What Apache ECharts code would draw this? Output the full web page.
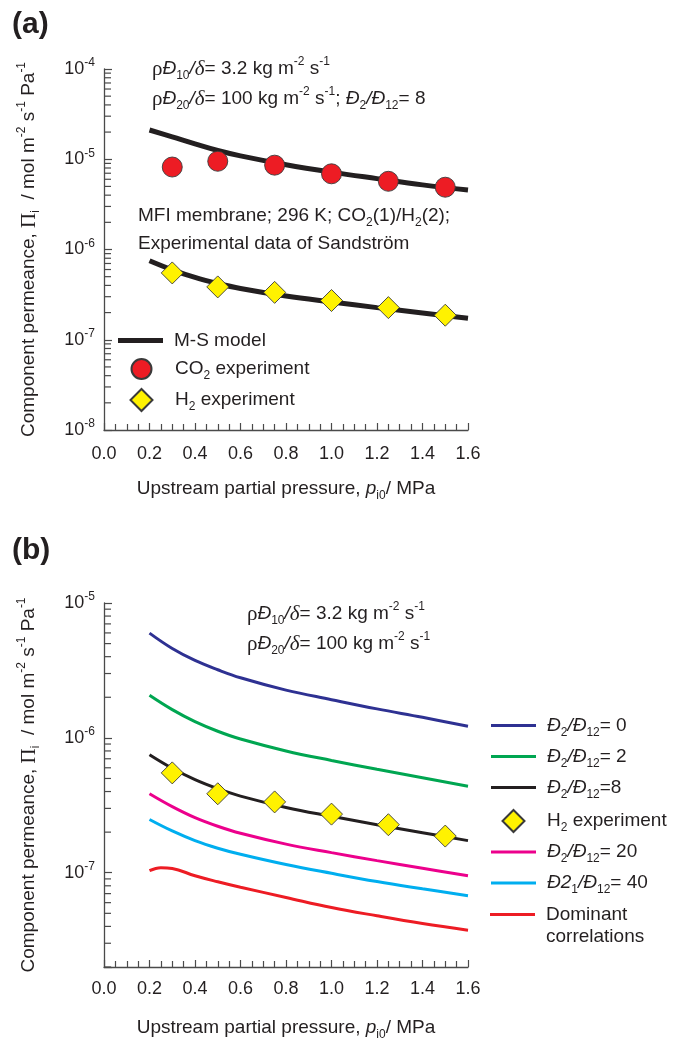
<!DOCTYPE html>
<html>
<head>
<meta charset="utf-8">
<title>Component permeance</title>
<script src="https://cdn.jsdelivr.net/npm/echarts@6.0.0/dist/echarts.min.js"></script>
<style>
html, body { margin: 0; padding: 0; background: #fff; }
#main { width: 683px; height: 1039px; }
</style>
</head>
<body>
<div id="main"></div>
<script>
var FONT = '"Liberation Sans", Arial, sans-serif';
var SERIF = '"Liberation Serif", "Times New Roman", serif';
var INK = '#231f20';

// upstream partial pressure, MPa
var modelP = [0.2, 0.3, 0.4, 0.5, 0.6, 0.8, 1.0, 1.2, 1.4, 1.6];
var exptP = [0.3, 0.5, 0.75, 1.0, 1.25, 1.5];
var domP = [0.2, 0.25, 0.3, 0.4, 0.5, 0.6, 0.8, 1.0, 1.2, 1.4, 1.6];

// panel (a), permeance mol m-2 s-1 Pa-1
var co2Model = [2.11e-5, 1.77e-5, 1.48e-5, 1.25e-5, 1.09e-5, 8.7e-6, 7.2e-6, 6.1e-6, 5.2e-6, 4.56e-6];
var h2Model = [7.5e-7, 5.95e-7, 4.9e-7, 4.2e-7, 3.7e-7, 3.05e-7, 2.62e-7, 2.27e-7, 1.98e-7, 1.73e-7];
var co2Expt = [8.2e-6, 9.5e-6, 8.6e-6, 6.9e-6, 5.7e-6, 4.9e-6];
var h2Expt = [5.5e-7, 3.85e-7, 3.35e-7, 2.72e-7, 2.27e-7, 1.87e-7];

// panel (b), H2 permeance for different Đ2/Đ12
var ratio0 = [5.98e-6, 4.6e-6, 3.75e-6, 3.2e-6, 2.79e-6, 2.26e-6, 1.92e-6, 1.64e-6, 1.42e-6, 1.22e-6];
var ratio2 = [2.07e-6, 1.62e-6, 1.32e-6, 1.12e-6, 9.8e-7, 8.0e-7, 6.8e-7, 5.85e-7, 5.07e-7, 4.38e-7];
var ratio20 = [3.85e-7, 3.09e-7, 2.56e-7, 2.21e-7, 1.96e-7, 1.63e-7, 1.41e-7, 1.23e-7, 1.08e-7, 9.5e-8];
var ratio40 = [2.48e-7, 2.04e-7, 1.73e-7, 1.52e-7, 1.37e-7, 1.15e-7, 9.9e-8, 8.6e-8, 7.6e-8, 6.75e-8];
var dominant = [1.035e-7, 1.09e-7, 1.076e-7, 9.5e-8, 8.57e-8, 7.8e-8, 6.56e-8, 5.52e-8, 4.79e-8, 4.2e-8, 3.75e-8];

// log-axis minor ticks
var minorMult = [2, 3, 4, 5, 6, 7, 8, 9];
var decadesA = [-8, -7, -6, -5];
var decadesB = [-8, -7, -6];

function pairs(xs, ys) {
    return xs.map(function (x, i) { return [x, ys[i]]; });
}

function minorValues(decades) {
    var out = [];
    decades.forEach(function (d) {
        minorMult.forEach(function (k) {
            out.push(Number((k * Math.pow(10, d)).toPrecision(3)));
        });
    });
    return out;
}

var rich = {
    n: { fontFamily: FONT, fontSize: 19, lineHeight: 26, color: INK },
    i: { fontFamily: FONT, fontSize: 19, lineHeight: 26, fontStyle: 'italic', color: INK },
    g: { fontFamily: SERIF, fontSize: 21, lineHeight: 26, color: INK },
    gi: { fontFamily: SERIF, fontSize: 21, lineHeight: 26, fontStyle: 'italic', color: INK },
    sup: { fontFamily: FONT, fontSize: 12, lineHeight: 12, verticalAlign: 'top', color: INK },
    sub: { fontFamily: FONT, fontSize: 12, lineHeight: 12, verticalAlign: 'bottom', color: INK },
    m: { fontFamily: FONT, fontSize: 19, lineHeight: 22, color: INK }
};

var tickRich = {
    t: { fontFamily: FONT, fontSize: 18, lineHeight: 24, color: INK },
    ts: { fontFamily: FONT, fontSize: 12, lineHeight: 12, verticalAlign: 'top', color: INK }
};

var legendText = {
    'M-S model': '{n|M-S model}',
    'CO2 experiment': '{n|CO}{sub|2}{n| experiment}',
    'H2 experiment': '{n|H}{sub|2}{n| experiment}',
    'D2/D12= 0': '{i|Đ}{sub|2}{i|/Đ}{sub|12}{n|= 0}',
    'D2/D12= 2': '{i|Đ}{sub|2}{i|/Đ}{sub|12}{n|= 2}',
    'D2/D12=8': '{i|Đ}{sub|2}{i|/Đ}{sub|12}{n|=8}',
    'D2/D12= 20': '{i|Đ}{sub|2}{i|/Đ}{sub|12}{n|= 20}',
    'D21/D12= 40': '{i|Đ2}{sub|1}{i|/Đ}{sub|12}{n|= 40}',
    'Dominant correlations': '{m|Dominant}\n{m|correlations}'
};

// legend icons drawn in a 45 x 22 box (end points pin the box width)
var thickBar = 'path://M0,0H45V5H0Z';
var thinBar = 'path://M0,0H45V3H0Z';
var diamondIcon = 'path://M0,11L0,11M45,11L45,11M22.5,0L33.5,11L22.5,22L11.5,11Z';
var circleIcon = 'path://M0,11L0,11M45,11L45,11M12.5,11A10,10 0 1 1 32.5,11A10,10 0 1 1 12.5,11Z';

var yName = '{n|Component permeance, }{g|Π}{sub|i}{n|  / mol m}{sup|-2}{n| s}{sup|-1}{n| Pa}{sup|-1}';
var xName = '{n|Upstream partial pressure, }{i|p}{sub|i0}{n|/ MPa}';

var axisColor = '#4a4a4a';

function xAxisFor(gi, labelMargin, nameGap) {
    return {
        type: 'value', gridIndex: gi, min: 0, max: 1.6, interval: 0.2,
        name: xName, nameLocation: 'middle', nameGap: nameGap,
        nameTextStyle: { rich: rich },
        axisLine: { onZero: false, lineStyle: { color: axisColor, width: 1.3 } },
        axisTick: { inside: true, length: 7, lineStyle: { color: axisColor, width: 1.2 } },
        minorTick: { show: true, splitNumber: 4, length: 6, lineStyle: { color: axisColor, width: 1.2 } },
        axisLabel: {
            margin: labelMargin, fontSize: 18, fontFamily: FONT, color: INK,
            formatter: function (v) { return v.toFixed(1); }
        },
        splitLine: { show: false }
    };
}

function yAxisFor(gi, min, max, splitNumber) {
    return {
        type: 'log', logBase: 10, gridIndex: gi, min: min, max: max, splitNumber: splitNumber,
        name: yName, nameLocation: 'middle', nameGap: 62, nameRotate: 90,
        nameTextStyle: { rich: rich },
        axisLine: { onZero: false, lineStyle: { color: axisColor, width: 1.3 } },
        axisTick: { inside: true, length: 8, lineStyle: { color: axisColor, width: 1.2 } },
        axisLabel: {
            margin: 9,
            formatter: function (v) {
                var lg = Math.log10(v);
                var e = Math.round(lg);
                if (Math.abs(lg - e) > 1e-6) return '';
                return '{t|10}{ts|' + e + '}';
            },
            rich: tickRich
        },
        splitLine: { show: false }
    };
}

function minorTickSeries(gi, values) {
    return {
        type: 'custom', xAxisIndex: gi, yAxisIndex: gi, silent: true, clip: false, z: 1,
        data: values.map(function (v) { return [0, v]; }),
        renderItem: function (params, api) {
            var p = api.coord([0, api.value(1)]);
            return {
                type: 'line',
                shape: { x1: p[0], y1: p[1], x2: p[0] + 7, y2: p[1] },
                style: { stroke: axisColor, lineWidth: 1.2 }
            };
        }
    };
}

function curve(gi, name, xs, ys, color, width) {
    return {
        name: name, type: 'line', xAxisIndex: gi, yAxisIndex: gi,
        data: pairs(xs, ys), smooth: 0.4, symbol: 'none',
        lineStyle: { color: color, width: width }, itemStyle: { color: color }
    };
}

function points(gi, name, ys, symbol, size, fill) {
    return {
        name: name, type: 'scatter', xAxisIndex: gi, yAxisIndex: gi,
        data: pairs(exptP, ys), symbol: symbol, symbolSize: size, z: 5,
        itemStyle: { color: fill, borderColor: '#3a3a3a', borderWidth: 0.9, opacity: 1 }
    };
}

function legendFor(items, left, top, gap, textPadding) {
    return {
        data: items, orient: 'vertical', left: left, top: top, padding: 0,
        itemWidth: 45, itemHeight: 22, itemGap: gap,
        formatter: function (name) { return legendText[name] || name; },
        textStyle: { rich: rich, padding: textPadding }
    };
}

var annoA1 = '{g|ρ}{i|Đ}{sub|10}{i|/}{gi|δ}{n|= 3.2 kg m}{sup|-2}{n| s}{sup|-1}';
var annoA2 = '{g|ρ}{i|Đ}{sub|20}{i|/}{gi|δ}{n|= 100 kg m}{sup|-2}{n| s}{sup|-1}{n|; }{i|Đ}{sub|2}{i|/Đ}{sub|12}{n|= 8}';
var annoB2 = '{g|ρ}{i|Đ}{sub|20}{i|/}{gi|δ}{n|= 100 kg m}{sup|-2}{n| s}{sup|-1}';

function note(x, y, text) {
    return { type: 'text', x: x, y: y, style: { text: text, rich: rich, verticalAlign: 'middle', fill: INK } };
}

var dom = document.getElementById('main');
var myChart = echarts.init(dom);

var option = {
    animation: false,
    backgroundColor: '#fff',
    grid: [
        { left: 104, top: 69, width: 364, height: 361, outerBoundsMode: 'none' },
        { left: 104, top: 603, width: 364, height: 364, outerBoundsMode: 'none' }
    ],
    xAxis: [xAxisFor(0, 15, 46), xAxisFor(1, 13, 48)],
    yAxis: [yAxisFor(0, 1e-8, 1e-4, 4), yAxisFor(1, 2e-8, 1e-5, 3)],
    legend: [
        legendFor([{ name: 'M-S model', icon: thickBar }], 118, 331, 0, [0, 0, 0, 6]),
        legendFor([{ name: 'CO2 experiment', icon: circleIcon }], 118, 358, 0, [0, 0, 0, 6]),
        legendFor([{ name: 'H2 experiment', icon: diamondIcon }], 118, 388, 0, [0, 0, 0, 6]),
        legendFor([
            { name: 'D2/D12= 0', icon: thinBar },
            { name: 'D2/D12= 2', icon: thinBar },
            { name: 'D2/D12=8', icon: thinBar },
            { name: 'H2 experiment', icon: diamondIcon },
            { name: 'D2/D12= 20', icon: thinBar },
            { name: 'D21/D12= 40', icon: thinBar }
        ], 490, 716, 8.5, [0, 0, 0, 6]),
        legendFor([{ name: 'Dominant correlations', icon: thinBar }], 490, 905, 0, [22, 0, 0, 6])
    ],
    graphic: [
        { type: 'text', left: 12, top: 10, style: { text: '(a)', font: 'bold 30px ' + FONT, fill: INK } },
        { type: 'text', left: 12, top: 536, style: { text: '(b)', font: 'bold 30px ' + FONT, fill: INK } },
        note(152, 69, annoA1),
        note(152, 99, annoA2),
        note(138, 216, '{n|MFI membrane; 296 K; CO}{sub|2}{n|(1)/H}{sub|2}{n|(2);}'),
        note(138, 244, '{n|Experimental data of Sandström}'),
        note(247, 614, annoA1),
        note(247, 644, annoB2)
    ],
    series: [
        minorTickSeries(0, minorValues(decadesA)),
        minorTickSeries(1, minorValues(decadesB)),
        curve(0, 'M-S model', modelP, co2Model, '#231f20', 5),
        curve(0, 'M-S model', modelP, h2Model, '#231f20', 5),
        points(0, 'CO2 experiment', co2Expt, 'circle', 20, '#ed1c24'),
        points(0, 'H2 experiment', h2Expt, 'diamond', 22, '#fff200'),
        curve(1, 'D2/D12= 0', modelP, ratio0, '#2e3192', 3),
        curve(1, 'D2/D12= 2', modelP, ratio2, '#00a651', 3),
        curve(1, 'D2/D12=8', modelP, h2Model, '#231f20', 3),
        curve(1, 'D2/D12= 20', modelP, ratio20, '#ec008c', 3),
        curve(1, 'D21/D12= 40', modelP, ratio40, '#00aeef', 3),
        curve(1, 'Dominant correlations', domP, dominant, '#ed1c24', 3),
        points(1, 'H2 experiment', h2Expt, 'diamond', 22, '#fff200')
    ]
};

myChart.setOption(option);
</script>
</body>
</html>
